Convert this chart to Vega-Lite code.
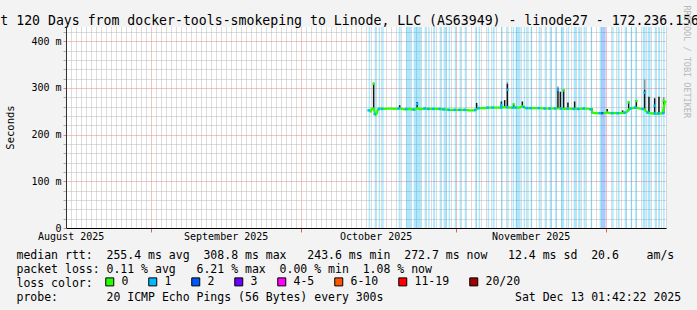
{
  "$schema": "https://vega.github.io/schema/vega-lite/v6.json",
  "width": 600,
  "height": 201,
  "autosize": {"type": "none"},
  "padding": {"left": 66, "top": 27, "right": 31, "bottom": 82},
  "background": "#f3f3f3",
  "config": {
    "view": {"stroke": null, "fill": "#ffffff"},
    "font": "DejaVu Sans Mono",
    "axis": {"labelFont": "DejaVu Sans Mono", "titleFont": "DejaVu Sans Mono", "labelColor": "#000000", "titleColor": "#000000", "titleFontWeight": "normal"}
  },
  "datasets": {
    "bands": [
      {"s": "2025-10-14T14:24", "e": "2025-10-14T21:36", "loss": "1", "med": 0.252},
      {"s": "2025-10-15T19:12", "e": "2025-10-16T02:24", "loss": "1", "med": 0.244},
      {"s": "2025-10-16T14:24", "e": "2025-10-16T21:36", "loss": "1", "med": 0.255},
      {"s": "2025-10-17T07:12", "e": "2025-10-17T14:24", "loss": "1", "med": 0.255},
      {"s": "2025-10-20T14:24", "e": "2025-10-21T00:00", "loss": "1", "med": 0.256},
      {"s": "2025-10-22T02:24", "e": "2025-10-23T02:24", "loss": "1", "med": 0.255},
      {"s": "2025-10-23T14:24", "e": "2025-10-25T02:24", "loss": "1", "med": 0.254},
      {"s": "2025-10-25T19:12", "e": "2025-10-26T02:24", "loss": "1", "med": 0.256},
      {"s": "2025-10-26T12:00", "e": "2025-10-26T19:12", "loss": "1", "med": 0.255},
      {"s": "2025-10-27T12:00", "e": "2025-10-27T21:36", "loss": "1", "med": 0.255},
      {"s": "2025-10-28T19:12", "e": "2025-10-29T02:24", "loss": "1", "med": 0.255},
      {"s": "2025-10-29T14:24", "e": "2025-10-30T04:48", "loss": "1", "med": 0.254},
      {"s": "2025-10-30T14:24", "e": "2025-10-30T21:36", "loss": "1", "med": 0.253},
      {"s": "2025-10-31T19:12", "e": "2025-11-01T02:24", "loss": "1", "med": 0.253},
      {"s": "2025-11-01T19:12", "e": "2025-11-02T02:24", "loss": "1", "med": 0.253},
      {"s": "2025-11-02T19:12", "e": "2025-11-03T02:24", "loss": "1", "med": 0.253},
      {"s": "2025-11-04T21:36", "e": "2025-11-05T04:48", "loss": "1", "med": 0.253},
      {"s": "2025-11-05T14:24", "e": "2025-11-05T21:36", "loss": "1", "med": 0.257},
      {"s": "2025-11-07T09:36", "e": "2025-11-07T16:48", "loss": "1", "med": 0.258},
      {"s": "2025-11-08T09:36", "e": "2025-11-08T19:12", "loss": "1", "med": 0.258},
      {"s": "2025-11-10T02:24", "e": "2025-11-10T09:36", "loss": "1", "med": 0.258},
      {"s": "2025-11-11T07:12", "e": "2025-11-11T14:24", "loss": "1", "med": 0.259},
      {"s": "2025-11-12T09:36", "e": "2025-11-12T16:48", "loss": "1", "med": 0.258},
      {"s": "2025-11-13T00:00", "e": "2025-11-14T00:00", "loss": "1", "med": 0.258},
      {"s": "2025-11-14T14:24", "e": "2025-11-14T21:36", "loss": "1", "med": 0.259},
      {"s": "2025-11-15T07:12", "e": "2025-11-15T14:24", "loss": "1", "med": 0.257},
      {"s": "2025-11-16T00:00", "e": "2025-11-16T07:12", "loss": "1", "med": 0.257},
      {"s": "2025-11-17T14:24", "e": "2025-11-18T00:00", "loss": "1", "med": 0.257},
      {"s": "2025-11-18T19:12", "e": "2025-11-19T02:24", "loss": "1", "med": 0.256},
      {"s": "2025-11-19T19:12", "e": "2025-11-20T04:48", "loss": "1", "med": 0.256},
      {"s": "2025-11-20T21:36", "e": "2025-11-21T04:48", "loss": "1", "med": 0.256},
      {"s": "2025-11-22T02:24", "e": "2025-11-22T16:48", "loss": "1", "med": 0.256},
      {"s": "2025-11-23T09:36", "e": "2025-11-23T16:48", "loss": "1", "med": 0.256},
      {"s": "2025-11-24T14:24", "e": "2025-11-25T02:24", "loss": "1", "med": 0.255},
      {"s": "2025-11-25T12:00", "e": "2025-11-26T00:00", "loss": "1", "med": 0.255},
      {"s": "2025-11-26T14:24", "e": "2025-11-27T00:00", "loss": "1", "med": 0.256},
      {"s": "2025-11-28T00:00", "e": "2025-11-28T07:12", "loss": "1", "med": 0.254},
      {"s": "2025-11-29T19:12", "e": "2025-11-30T07:12", "loss": "1", "med": 0.246},
      {"s": "2025-11-30T07:12", "e": "2025-12-01T00:00", "loss": "2", "med": 0.246},
      {"s": "2025-12-02T07:12", "e": "2025-12-02T14:24", "loss": "1", "med": 0.246},
      {"s": "2025-12-03T09:36", "e": "2025-12-03T19:12", "loss": "1", "med": 0.246},
      {"s": "2025-12-04T19:12", "e": "2025-12-05T04:48", "loss": "1", "med": 0.247},
      {"s": "2025-12-06T00:00", "e": "2025-12-06T07:12", "loss": "1", "med": 0.256},
      {"s": "2025-12-06T21:36", "e": "2025-12-07T04:48", "loss": "1", "med": 0.258},
      {"s": "2025-12-08T09:36", "e": "2025-12-09T00:00", "loss": "1", "med": 0.255},
      {"s": "2025-12-09T09:36", "e": "2025-12-10T00:00", "loss": "1", "med": 0.247},
      {"s": "2025-12-10T19:12", "e": "2025-12-11T02:24", "loss": "1", "med": 0.245},
      {"s": "2025-12-11T12:00", "e": "2025-12-11T21:36", "loss": "1", "med": 0.245},
      {"s": "2025-12-12T12:00", "e": "2025-12-12T19:12", "loss": "1", "med": 0.246}
    ],
    "median": [
      {"t": "2025-10-14T19:12", "v": 0.252},
      {"t": "2025-10-15T00:00", "v": 0.250},
      {"t": "2025-10-15T04:48", "v": 0.255},
      {"t": "2025-10-15T14:24", "v": 0.256},
      {"t": "2025-10-15T19:12", "v": 0.248},
      {"t": "2025-10-16T00:00", "v": 0.243},
      {"t": "2025-10-16T04:48", "v": 0.245},
      {"t": "2025-10-16T09:36", "v": 0.252},
      {"t": "2025-10-16T19:12", "v": 0.256},
      {"t": "2025-10-17T19:12", "v": 0.255},
      {"t": "2025-10-18T19:12", "v": 0.256},
      {"t": "2025-10-19T19:12", "v": 0.255},
      {"t": "2025-10-20T19:12", "v": 0.256},
      {"t": "2025-10-21T19:12", "v": 0.254},
      {"t": "2025-10-22T19:12", "v": 0.255},
      {"t": "2025-10-23T19:12", "v": 0.253},
      {"t": "2025-10-24T09:36", "v": 0.257},
      {"t": "2025-10-24T19:12", "v": 0.254},
      {"t": "2025-10-25T19:12", "v": 0.256},
      {"t": "2025-10-26T19:12", "v": 0.255},
      {"t": "2025-10-27T19:12", "v": 0.255},
      {"t": "2025-10-28T19:12", "v": 0.255},
      {"t": "2025-10-29T19:12", "v": 0.254},
      {"t": "2025-10-30T19:12", "v": 0.253},
      {"t": "2025-10-31T19:12", "v": 0.253},
      {"t": "2025-11-01T19:12", "v": 0.253},
      {"t": "2025-11-02T19:12", "v": 0.253},
      {"t": "2025-11-03T19:12", "v": 0.252},
      {"t": "2025-11-04T19:12", "v": 0.252},
      {"t": "2025-11-05T09:36", "v": 0.256},
      {"t": "2025-11-05T19:12", "v": 0.257},
      {"t": "2025-11-06T19:12", "v": 0.257},
      {"t": "2025-11-07T19:12", "v": 0.258},
      {"t": "2025-11-08T19:12", "v": 0.258},
      {"t": "2025-11-09T19:12", "v": 0.258},
      {"t": "2025-11-10T19:12", "v": 0.259},
      {"t": "2025-11-11T19:12", "v": 0.258},
      {"t": "2025-11-12T19:12", "v": 0.258},
      {"t": "2025-11-13T19:12", "v": 0.258},
      {"t": "2025-11-14T09:36", "v": 0.261},
      {"t": "2025-11-15T00:00", "v": 0.257},
      {"t": "2025-11-15T19:12", "v": 0.257},
      {"t": "2025-11-16T19:12", "v": 0.257},
      {"t": "2025-11-17T19:12", "v": 0.257},
      {"t": "2025-11-18T19:12", "v": 0.256},
      {"t": "2025-11-19T19:12", "v": 0.256},
      {"t": "2025-11-20T19:12", "v": 0.256},
      {"t": "2025-11-21T19:12", "v": 0.256},
      {"t": "2025-11-22T19:12", "v": 0.255},
      {"t": "2025-11-23T19:12", "v": 0.256},
      {"t": "2025-11-24T19:12", "v": 0.255},
      {"t": "2025-11-25T19:12", "v": 0.255},
      {"t": "2025-11-26T19:12", "v": 0.256},
      {"t": "2025-11-27T19:12", "v": 0.255},
      {"t": "2025-11-28T04:48", "v": 0.254},
      {"t": "2025-11-28T09:36", "v": 0.247},
      {"t": "2025-11-28T19:12", "v": 0.246},
      {"t": "2025-11-29T19:12", "v": 0.246},
      {"t": "2025-11-30T19:12", "v": 0.246},
      {"t": "2025-12-01T04:48", "v": 0.248},
      {"t": "2025-12-01T19:12", "v": 0.246},
      {"t": "2025-12-02T19:12", "v": 0.246},
      {"t": "2025-12-03T19:12", "v": 0.246},
      {"t": "2025-12-04T19:12", "v": 0.247},
      {"t": "2025-12-05T04:48", "v": 0.248},
      {"t": "2025-12-05T14:24", "v": 0.254},
      {"t": "2025-12-06T04:48", "v": 0.257},
      {"t": "2025-12-07T00:00", "v": 0.258},
      {"t": "2025-12-07T19:12", "v": 0.256},
      {"t": "2025-12-08T14:24", "v": 0.255},
      {"t": "2025-12-09T04:48", "v": 0.249},
      {"t": "2025-12-09T19:12", "v": 0.246},
      {"t": "2025-12-10T19:12", "v": 0.245},
      {"t": "2025-12-11T19:12", "v": 0.245},
      {"t": "2025-12-12T09:36", "v": 0.246},
      {"t": "2025-12-12T19:12", "v": 0.268},
      {"t": "2025-12-13T00:00", "v": 0.2727}
    ],
    "spikes": [
      {"t": "2025-10-15T14:24", "lo": 0.255, "hi": 0.311},
      {"t": "2025-10-20T19:12", "lo": 0.256, "hi": 0.263},
      {"t": "2025-10-24T07:12", "lo": 0.255, "hi": 0.270},
      {"t": "2025-11-05T04:48", "lo": 0.254, "hi": 0.268},
      {"t": "2025-11-10T03:22", "lo": 0.258, "hi": 0.271},
      {"t": "2025-11-10T19:12", "lo": 0.258, "hi": 0.274},
      {"t": "2025-11-11T08:10", "lo": 0.258, "hi": 0.3088},
      {"t": "2025-11-12T14:24", "lo": 0.258, "hi": 0.266},
      {"t": "2025-11-14T08:10", "lo": 0.259, "hi": 0.271},
      {"t": "2025-11-21T11:02", "lo": 0.256, "hi": 0.299},
      {"t": "2025-11-21T22:34", "lo": 0.256, "hi": 0.292},
      {"t": "2025-11-22T14:24", "lo": 0.256, "hi": 0.297},
      {"t": "2025-11-23T11:02", "lo": 0.256, "hi": 0.269},
      {"t": "2025-11-24T19:12", "lo": 0.255, "hi": 0.271},
      {"t": "2025-11-28T07:12", "lo": 0.247, "hi": 0.256},
      {"t": "2025-12-01T07:12", "lo": 0.246, "hi": 0.255},
      {"t": "2025-12-04T09:36", "lo": 0.246, "hi": 0.252},
      {"t": "2025-12-05T14:24", "lo": 0.250, "hi": 0.271},
      {"t": "2025-12-07T03:22", "lo": 0.257, "hi": 0.274},
      {"t": "2025-12-08T19:12", "lo": 0.253, "hi": 0.296},
      {"t": "2025-12-09T15:50", "lo": 0.246, "hi": 0.281},
      {"t": "2025-12-10T19:12", "lo": 0.245, "hi": 0.278},
      {"t": "2025-12-11T15:50", "lo": 0.245, "hi": 0.281},
      {"t": "2025-12-12T14:24", "lo": 0.245, "hi": 0.274}
    ],
    "smoke2": [
      {"t": "2025-11-11T08:10", "lo": 0.3088, "hi": 0.312},
      {"t": "2025-11-21T11:02", "lo": 0.299, "hi": 0.303},
      {"t": "2025-12-08T19:12", "lo": 0.296, "hi": 0.318},
      {"t": "2025-12-12T14:24", "lo": 0.274, "hi": 0.280}
    ],
    "tips": [
      {"t": "2025-10-15T14:24", "v": 0.309, "loss": "0"},
      {"t": "2025-10-24T07:12", "v": 0.266, "loss": "1"},
      {"t": "2025-11-10T03:22", "v": 0.264, "loss": "1"},
      {"t": "2025-11-11T08:10", "v": 0.296, "loss": "1"},
      {"t": "2025-11-12T14:24", "v": 0.265, "loss": "0"},
      {"t": "2025-11-21T11:02", "v": 0.296, "loss": "1"},
      {"t": "2025-11-22T14:24", "v": 0.295, "loss": "0"},
      {"t": "2025-12-05T14:24", "v": 0.269, "loss": "0"},
      {"t": "2025-12-07T03:22", "v": 0.272, "loss": "0"},
      {"t": "2025-12-08T19:12", "v": 0.290, "loss": "1"},
      {"t": "2025-12-10T19:12", "v": 0.262, "loss": "1"},
      {"t": "2025-12-12T14:24", "v": 0.272, "loss": "0"}
    ]
  },
  "layer": [
    {
      "data": {"name": "bands"},
      "mark": {"type": "rect", "opacity": 0.33},
      "encoding": {
        "x": {"field": "s", "type": "temporal", "axis": null},
        "x2": {"field": "e"},
        "fill": {"field": "loss", "type": "nominal", "scale": {"domain": ["1", "2"], "range": ["#00b8ff", "#0059ff"]}, "legend": null}
      }
    },
    {
      "data": {"name": "smoke2"},
      "mark": {"type": "rule", "color": "#8c8c8c", "strokeWidth": 1.5},
      "encoding": {
        "x": {"field": "t", "type": "temporal", "axis": null},
        "y": {"field": "lo", "type": "quantitative", "axis": null},
        "y2": {"field": "hi"}
      }
    },
    {
      "data": {"name": "spikes"},
      "mark": {"type": "rule", "color": "#151515", "strokeWidth": 1.5},
      "encoding": {
        "x": {"field": "t", "type": "temporal", "axis": null},
        "y": {"field": "lo", "type": "quantitative", "axis": null},
        "y2": {"field": "hi"}
      }
    },
    {
      "data": {"name": "median"},
      "mark": {"type": "line", "color": "#26ff00", "strokeWidth": 2.2},
      "encoding": {
        "x": {
          "field": "t", "type": "temporal",
          "scale": {"domain": [{"year": 2025, "month": 8, "date": 15, "hours": 1, "minutes": 42}, {"year": 2025, "month": 12, "date": 13, "hours": 1, "minutes": 42}], "nice": false},
          "axis": {
            "orient": "bottom",
            "tickCount": {"interval": "day", "step": 1},
            "grid": true,
            "gridColor": {"condition": {"test": "date(datum.value) == 1", "value": "#e88888"}, "value": "#b8b8b8"},
            "gridDash": [1, 1],
            "gridOpacity": 1,
            "tickColor": {"condition": {"test": "date(datum.value) == 1", "value": "#e06060"}, "value": "transparent"},
            "tickSize": 4,
            "labelExpr": "date(datum.value) == 16 ? timeFormat(datum.value, '%B %Y') : ''",
            "labelOverlap": false,
            "labelFlush": false,
            "labelPadding": -1,
            "labelFontSize": 10,
            "labelBaseline": "top",
            "domainColor": "#000000",
            "domainWidth": 1,
            "title": [
              "median rtt:\u00a0\u00a0255.4 ms avg\u00a0\u00a0308.8 ms max\u00a0\u00a0\u00a0243.6 ms min\u00a0\u00a0272.7 ms now\u00a0\u00a0\u00a012.4 ms sd\u00a0\u00a020.6\u00a0\u00a0\u00a0\u00a0am/s",
              "packet loss: 0.11 % avg\u00a0\u00a0\u00a06.21 % max\u00a0\u00a00.00 % min\u00a0\u00a01.08 % now",
              "loss color:",
              "probe:\u00a0\u00a0\u00a0\u00a0\u00a0\u00a0\u00a020 ICMP Echo Pings (56 Bytes) every 300s\u00a0\u00a0\u00a0\u00a0\u00a0\u00a0\u00a0\u00a0\u00a0\u00a0\u00a0\u00a0\u00a0\u00a0\u00a0\u00a0\u00a0\u00a0\u00a0Sat Dec 13 01:42:22 2025"
            ],
            "titleX": -50,
            "titleY": 30,
            "titleAlign": "left",
            "titleAnchor": "start",
            "titleBaseline": "alphabetic",
            "titleFontSize": 11.5,
            "titleLineHeight": 14
          }
        },
        "y": {
          "field": "v", "type": "quantitative",
          "scale": {"domain": [0, 0.4306], "nice": false, "zero": true},
          "axis": {
            "orient": "left",
            "values": [0, 0.02, 0.04, 0.06, 0.08, 0.1, 0.12, 0.14, 0.16, 0.18, 0.2, 0.22, 0.24, 0.26, 0.28, 0.3, 0.32, 0.34, 0.36, 0.38, 0.4, 0.42],
            "labelExpr": "round(datum.value*50) % 5 == 0 ? (datum.value == 0 ? '0' : round(datum.value*1000) + ' m') : ''",
            "grid": true,
            "gridColor": {"condition": {"test": "round(datum.value*50) % 5 == 0", "value": "#e88888"}, "value": "#b8b8b8"},
            "gridDash": [1, 1],
            "gridOpacity": 1,
            "tickSize": 3,
            "tickColor": {"condition": {"test": "round(datum.value*50) % 5 == 0", "value": "#e08080"}, "value": "#aaaaaa"},
            "labelPadding": 2,
            "labelFontSize": 10,
            "labelOverlap": false,
            "domainColor": "#333333",
            "title": "Seconds",
            "titleX": -56,
            "titleY": 100,
            "titleAngle": 270,
            "titleAlign": "center",
            "titleBaseline": "middle",
            "titleFontSize": 10.5
          }
        }
      }
    },
    {
      "data": {"name": "bands"},
      "mark": {"type": "square", "size": 6, "opacity": 1},
      "encoding": {
        "x": {"field": "s", "type": "temporal", "axis": null},
        "y": {"field": "med", "type": "quantitative", "axis": null},
        "color": {
          "field": "loss", "type": "nominal",
          "scale": {"domain": ["0", "1", "2", "3", "4-5", "6-10", "11-19", "20/20"], "range": ["#26ff00", "#00b8ff", "#0059ff", "#6a00ff", "#ff00ff", "#ff5500", "#ff0000", "#a10000"]},
          "legend": {
            "orient": "none", "legendX": 38, "legendY": 249,
            "direction": "horizontal", "columns": 8, "title": null,
            "symbolType": "square", "symbolSize": 64, "symbolStrokeColor": "#000000", "symbolStrokeWidth": 1, "symbolOpacity": 1,
            "labelFont": "DejaVu Sans Mono", "labelFontSize": 11.5, "labelColor": "#000000",
            "labelOffset": 6, "columnPadding": 17, "padding": 0
          }
        }
      }
    },
    {
      "data": {"name": "tips"},
      "mark": {"type": "square", "size": 6, "opacity": 1},
      "encoding": {
        "x": {"field": "t", "type": "temporal", "axis": null},
        "y": {"field": "v", "type": "quantitative", "axis": null},
        "color": {"field": "loss", "type": "nominal", "legend": null}
      }
    },
    {
      "mark": {"type": "point", "shape": "triangle-up", "filled": true, "size": 28, "color": "#8b1a1a", "opacity": 1},
      "encoding": {
        "x": {"datum": {"year": 2025, "month": 8, "date": 15, "hours": 1, "minutes": 42}, "type": "temporal", "axis": null},
        "y": {"datum": 0.441, "type": "quantitative",
          "axis": {"orient": "right", "title": "RRDTOOL / TOBI OETIKER", "titleAngle": 90, "titleX": 20, "titleY": -22, "titleAlign": "left", "titleBaseline": "middle", "titleFontSize": 8.5, "titleColor": "#b8b8b8", "labels": false, "ticks": false, "domain": false, "grid": false}
        }
      }
    },
    {
      "mark": {"type": "point", "shape": "triangle-right", "filled": true, "size": 28, "color": "#8b1a1a", "opacity": 1},
      "encoding": {
        "x": {"datum": {"year": 2025, "month": 12, "date": 13, "hours": 22, "minutes": 0}, "type": "temporal",
          "axis": {"orient": "top", "title": "Last 120 Days from docker-tools-smokeping to Linode, LLC (AS63949) - linode27 - 172.236.156", "titleX": -90, "titleY": -3, "titleAlign": "left", "titleAnchor": "start", "titleBaseline": "alphabetic", "titleAngle": 0, "titleFontSize": 13.2, "labels": false, "ticks": false, "domain": false, "grid": false}
        },
        "y": {"datum": 0, "type": "quantitative", "axis": null}
      }
    }
  ],
  "resolve": {"axis": {"x": "independent", "y": "independent"}}
}
